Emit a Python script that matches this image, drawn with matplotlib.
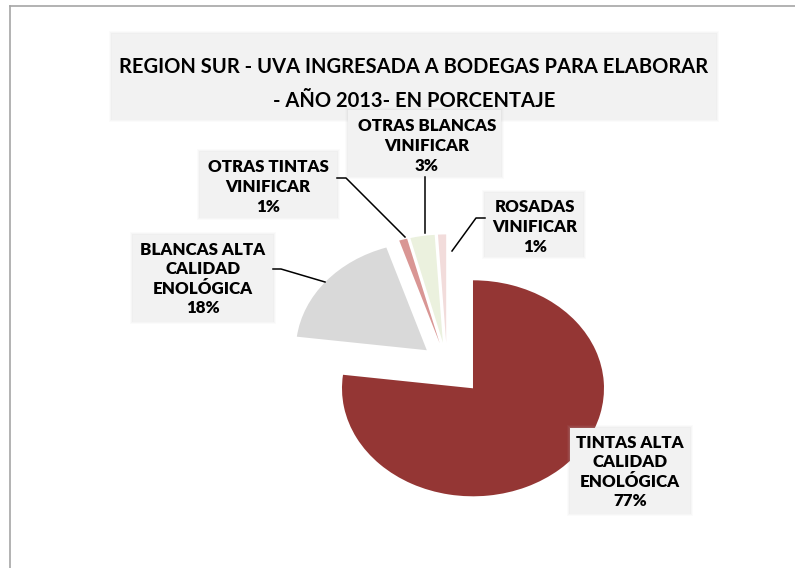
import matplotlib
matplotlib.use("Agg")
import matplotlib.pyplot as plt
from matplotlib.patches import Rectangle
from matplotlib.lines import Line2D

# ---- data ----
categories = ["TINTAS ALTA\nCALIDAD\nENOLÓGICA", "BLANCAS ALTA\nCALIDAD\nENOLÓGICA",
              "OTRAS TINTAS\nVINIFICAR", "OTRAS BLANCAS\nVINIFICAR", "ROSADAS\nVINIFICAR"]
values = [77, 18, 1, 3, 1]
colors = ["#943634", "#d9d9d9", "#d99694", "#ebf1de", "#f2dcdb"]
explode = [0.3, 0.2, 0.2, 0.2, 0.2]
title = "REGION SUR - UVA INGRESADA A BODEGAS PARA ELABORAR\n- AÑO 2013- EN PORCENTAJE"

W, H = 795, 568
fig = plt.figure(figsize=(W / 100, H / 100), dpi=100)
fig.patch.set_facecolor("white")

FONT = ["Lato", "DejaVu Sans"]

def fx(x):
    return x / W

def fy(y):
    return 1 - y / H

# frame
fig.add_artist(Line2D([fx(10), fx(10)], [fy(6), fy(568)], color="#a6a6a6", lw=1.2))
fig.add_artist(Line2D([fx(10), fx(795)], [fy(6), fy(6)], color="#a6a6a6", lw=1.2))

def box(x0, y0, x1, y1):
    # soft shadow
    for i, a in enumerate([0.05, 0.08, 0.12]):
        d = 3 - i
        fig.add_artist(Rectangle((fx(x0 - d), fy(y1 + d - 1)), (x1 - x0 + 2 * d) / W,
                                 (y1 - y0 + 2 * d - 1) / H, facecolor="#bfbfbf",
                                 edgecolor="none", alpha=a))
    fig.add_artist(Rectangle((fx(x0), fy(y1)), (x1 - x0) / W, (y1 - y0) / H,
                             facecolor="#f2f2f2", edgecolor="none"))

# pie axes: center at pixel (447, 364), rx=131, ry=108
cx, cy, rx, ry = 447, 364, 131, 108
ax = fig.add_axes([0, 0, 1, 1])
ax.pie(values, colors=colors, explode=explode, startangle=90, counterclock=False,
       wedgeprops=dict(linewidth=0))
ax.set_aspect("auto")
ax.set_xlim(-cx / rx, (W - cx) / rx)
ax.set_ylim(-(H - cy) / ry, cy / ry)
ax.axis("off")

# title
box(112, 34, 716, 120)
fig.text(fx(414), fy(84), title, ha="center", va="center", fontsize=14.5,
         fontweight="bold", family=FONT, linespacing=1.9, color="black")

# labels: (box x0,y0,x1,y1), text center
label_layout = [
    ((570, 428, 690, 514), (630, 472)),
    ((133, 235, 273, 322), (203, 279)),
    ((200, 152, 337, 218), (268, 187)),
    ((348, 110, 501, 177), (427, 146)),
    ((485, 193, 583, 257), (535, 227)),
]
for cat, v, (b, c) in zip(categories, values, label_layout):
    box(*b)
    fig.text(fx(c[0]), fy(c[1]), f"{cat}\n{v}%", ha="center", va="center",
             fontsize=12.2, fontweight="heavy", family=FONT, linespacing=1.28)

# leader lines
leaders = [
    [(273, 269), (281, 269), (325, 282)],
    [(337, 178), (346, 178), (405, 237)],
    [(425, 177), (425, 233)],
    [(485, 218), (476, 218), (452, 251)],
]
for pts in leaders:
    xs = [fx(p[0]) for p in pts]
    ys = [fy(p[1]) for p in pts]
    fig.add_artist(Line2D(xs, ys, color="black", lw=1.1))

fig.savefig("out.png", dpi=100, facecolor="white")
